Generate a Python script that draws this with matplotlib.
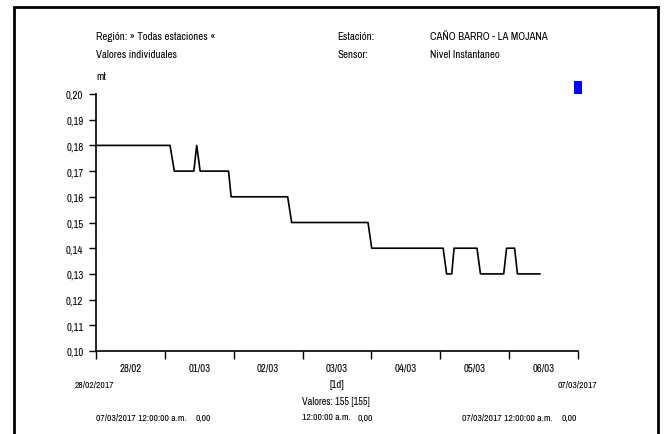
"""Nivel instantaneo - CANO BARRO - LA MOJANA, 28/02/2017 - 07/03/2017."""

import matplotlib
matplotlib.use("Agg")
import matplotlib.pyplot as plt
from matplotlib.patches import Rectangle

plt.rcParams["font.family"] = ["Archivo Narrow", "Liberation Sans", "DejaVu Sans"]

# hours since 28/02/2017 00:00
HOURS = [0, 25.8, 27.3, 34.1, 35.1, 36.3, 46.2, 47.1, 66.8, 68.2, 94.8, 96.1,
         121.0, 122.2, 124.0, 124.8, 132.8, 134.0, 142.1, 143.1, 145.9, 146.9, 154.7]
LEVEL = [0.18, 0.18, 0.17, 0.17, 0.18, 0.17, 0.17, 0.16, 0.16, 0.15, 0.15, 0.14,
         0.14, 0.13, 0.13, 0.14, 0.14, 0.13, 0.13, 0.14, 0.14, 0.13, 0.13]

DAY_LABELS = ["28/02", "01/03", "02/03", "03/03", "04/03", "05/03", "06/03"]
Y_TICKS = [0.10, 0.11, 0.12, 0.13, 0.14, 0.15, 0.16, 0.17, 0.18, 0.19, 0.20]

W, H = 666, 435
FS = 7.8
FS_NUM = 7.0


def fx(px):
    return px / W


def fy(py):
    return 1 - py / H


def main() -> None:
    fig = plt.figure(figsize=(W / 100, H / 100), dpi=100)
    ax = fig.add_axes([fx(96), fy(352), fx(578) - fx(96), fy(95) - fy(352)])

    ax.plot(HOURS, LEVEL, color="black", linewidth=1.2)

    ax.set_xlim(0, 168)
    ax.set_ylim(0.10, 0.20)
    ax.set_xticks(range(0, 169, 24))
    ax.set_xticklabels([])
    ax.set_xticks([12 + 24 * i for i in range(7)], minor=True)
    ax.set_xticklabels(DAY_LABELS, minor=True, fontsize=FS)
    ax.tick_params(axis="x", which="major", length=6, width=1, direction="out")
    ax.tick_params(axis="x", which="minor", length=0, pad=8)
    ax.set_yticks(Y_TICKS)
    ax.set_yticklabels([f"{v:.2f}".replace(".", ",") for v in Y_TICKS], fontsize=FS)
    ax.tick_params(axis="y", length=5, width=1, direction="out", pad=4)
    for side in ("top", "right"):
        ax.spines[side].set_visible(False)
    for side in ("left", "bottom"):
        ax.spines[side].set_linewidth(1.2)

    # frame around the report
    fig.patches.append(Rectangle((fx(14), fy(460)), fx(658) - fx(14), fy(8) - fy(460),
                                 transform=fig.transFigure, fill=False,
                                 edgecolor="black", linewidth=2))
    fig.patches.append(Rectangle((fx(574), fy(95)), fx(8), fy(82) - fy(95),
                                 transform=fig.transFigure, facecolor="#0000ff",
                                 edgecolor="none"))

    def txt(x, y, s, ha="left", size=FS):
        fig.text(fx(x), fy(y), s, ha=ha, va="center", fontsize=size)

    txt(96, 37, "Región: » Todas estaciones «")
    txt(96, 55, "Valores individuales")
    txt(337, 37, "Estación:")
    txt(337, 55, "Sensor:")
    txt(430, 37, "CAÑO BARRO - LA MOJANA")
    txt(430, 55, "Nivel Instantaneo")
    txt(96, 77, "mt")

    txt(94, 385, "28/02/2017", ha="center", size=FS_NUM)
    txt(577, 385, "07/03/2017", ha="center", size=FS_NUM)
    txt(337, 385, "[1d]", ha="center")
    txt(336, 402, "Valores: 155 [155]", ha="center", size=FS_NUM + 0.4)
    txt(96, 418, "07/03/2017 12:00:00 a.m.", size=FS_NUM)
    txt(196, 418, "0,00", size=FS_NUM)
    txt(302, 418, "12:00:00 a.m.", size=FS_NUM)
    txt(358, 418, "0,00", size=FS_NUM)
    txt(462, 418, "07/03/2017 12:00:00 a.m.", size=FS_NUM)
    txt(562, 418, "0,00", size=FS_NUM)

    fig.savefig("out.png", dpi=100)


if __name__ == "__main__":
    main()
